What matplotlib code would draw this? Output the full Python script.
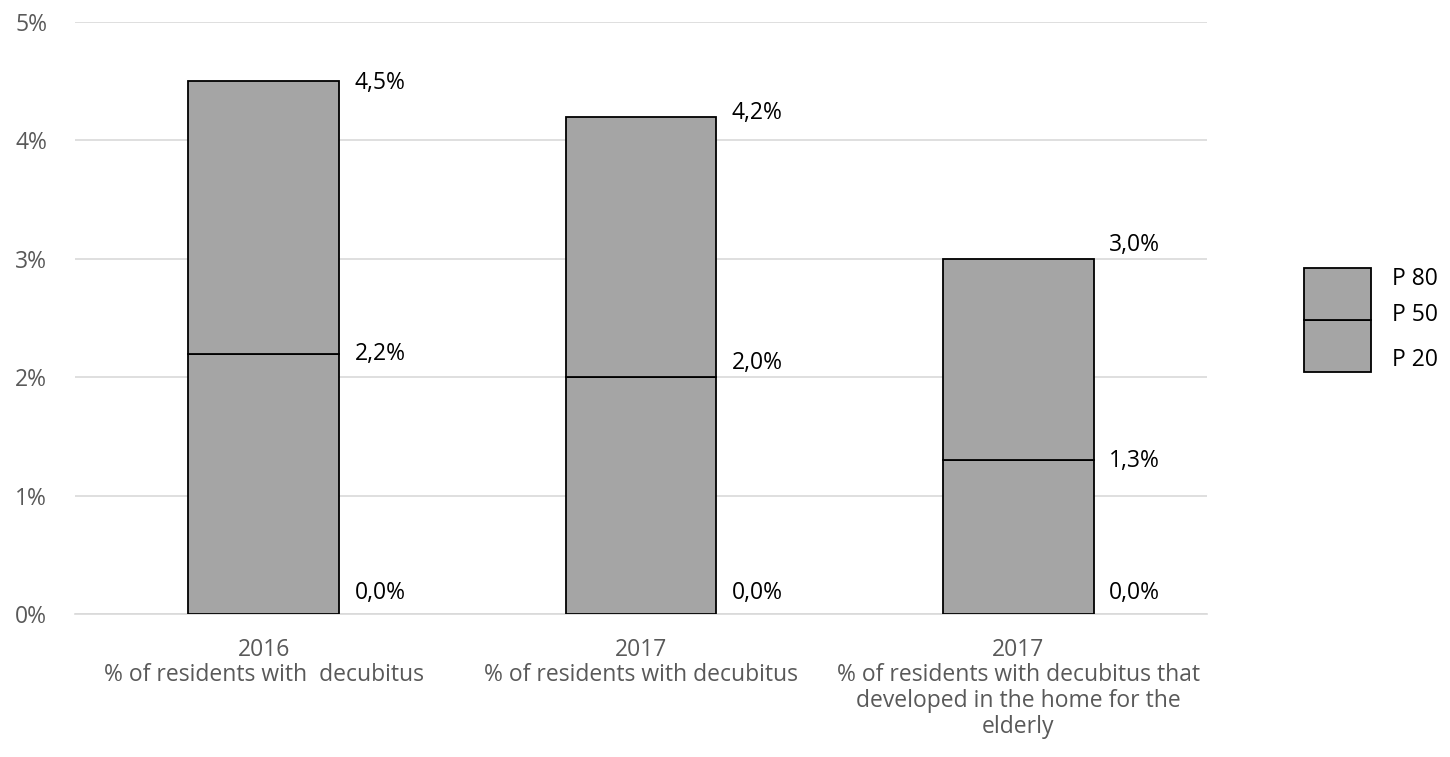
import matplotlib
matplotlib.use("Agg")
import matplotlib.pyplot as plt
from matplotlib.patches import Rectangle
from matplotlib.ticker import FuncFormatter

plt.rcParams['font.family'] = ['Open Sans', 'DejaVu Sans']

categories = ["2016\n% of residents with  decubitus",
              "2017\n% of residents with decubitus",
              "2017\n% of residents with decubitus that\ndeveloped in the home for the\nelderly"]
p20 = [0.0, 0.0, 0.0]
p50 = [2.2, 2.0, 1.3]
p80 = [4.5, 4.2, 3.0]
legend_labels = ["P 80", "P 50", "P 20"]

# label vertical offsets in points (style)
off20 = [15, 15, 15]
off50 = [0, 10, -1]
off80 = [-1, 3, 10]

FS = 16.5

fig = plt.figure(figsize=(14.5, 7.57), dpi=100)
ax = fig.add_axes([75/1450, 1-614/757, (1207-75)/1450, (614-22)/757])

x = list(range(len(categories)))
w = 0.4
fill = "#A5A5A5"
ax.bar(x, [m - l for m, l in zip(p50, p20)], bottom=p20, width=w, color=fill,
       edgecolor="black", linewidth=1.3, zorder=3)
ax.bar(x, [h - m for h, m in zip(p80, p50)], bottom=p50, width=w, color=fill,
       edgecolor="black", linewidth=1.3, zorder=3)

def fmt(v):
    return f"{v:.1f}%".replace(".", ",")

for i in x:
    for vals, offs in ((p20, off20), (p50, off50), (p80, off80)):
        ax.annotate(fmt(vals[i]), (i + w/2, vals[i]), xytext=(11, offs[i]),
                    textcoords="offset points", ha="left", va="center",
                    fontsize=FS, color="black")

ax.set_xlim(-0.5, len(categories) - 0.5)
ax.set_ylim(0, 5)
ax.set_yticks([0, 1, 2, 3, 4, 5])
ax.yaxis.set_major_formatter(FuncFormatter(lambda v, p: f"{v:.0f}%"))
ax.set_xticks(x)
ax.set_xticklabels(categories, fontsize=FS, color="#595959", linespacing=1.1)
ax.tick_params(axis="y", labelsize=FS, labelcolor="#595959", length=0, pad=20)
ax.tick_params(axis="x", length=0, pad=17)
ax.grid(axis="y", color="#D9D9D9", linewidth=1.2, zorder=0)
ax.set_axisbelow(True)
for s in ("top", "right", "left"):
    ax.spines[s].set_visible(False)
ax.spines["bottom"].set_color("#D9D9D9")
ax.spines["bottom"].set_linewidth(1.2)

# legend drawn as a mini box plot
lx0, lx1 = 1304/1450, 1371/1450
ly_top, ly_mid, ly_bot = 1-268/757, 1-320/757, 1-372/757
fig.patches.append(Rectangle((lx0, ly_bot), lx1-lx0, ly_mid-ly_bot, transform=fig.transFigure,
                             facecolor=fill, edgecolor="black", linewidth=1.3))
fig.patches.append(Rectangle((lx0, ly_mid), lx1-lx0, ly_top-ly_mid, transform=fig.transFigure,
                             facecolor=fill, edgecolor="black", linewidth=1.3))
for lab, yy in zip(legend_labels, [279, 315, 360]):
    fig.text(1392/1450, 1-yy/757, lab, ha="left", va="center", fontsize=FS, color="black")

fig.savefig("out.png", dpi=100, facecolor="white")
